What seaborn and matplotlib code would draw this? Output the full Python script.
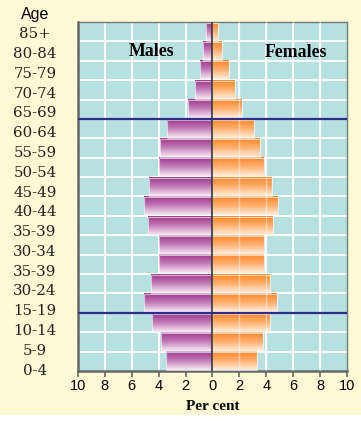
import numpy as np
import pandas as pd
import matplotlib
matplotlib.use("Agg")
import matplotlib.pyplot as plt
import seaborn as sns
from matplotlib.colors import LinearSegmentedColormap
from matplotlib.patches import Rectangle
from matplotlib.transforms import ScaledTranslation

# --- Data (top row first, as printed on the chart) ---
age_groups = ['85+', '80-84', '75-79', '70-74', '65-69', '60-64', '55-59', '50-54',
              '45-49', '40-44', '35-39', '30-34', '35-39', '30-24', '15-19',
              '10-14', '5-9', '0-4']
males = [0.5, 0.7, 0.9, 1.3, 1.8, 3.4, 3.9, 4.0, 4.7, 5.1, 4.8, 4.0, 4.0, 4.6, 5.1,
         4.5, 3.8, 3.45]
females = [0.4, 0.7, 1.2, 1.65, 2.2, 3.1, 3.5, 3.8, 4.4, 4.9, 4.5, 3.8, 3.8, 4.25, 4.8,
           4.3, 3.75, 3.3]
x_ticks = [-10, -8, -6, -4, -2, 0, 2, 4, 6, 8, 10]
band_breaks = ['65-69', '15-19']  # dark line drawn below these rows

df = pd.DataFrame({'row': range(len(age_groups)), 'age': age_groups,
                   'males': [-v for v in males], 'females': females})

# --- Colours ---
yellow = '#FFF9D6'
cyan = '#B7E1E1'
male_cmap = LinearSegmentedColormap.from_list('m', ['#9A3589', '#C47DB8', '#F7EAF5'])
female_cmap = LinearSegmentedColormap.from_list('f', ['#FF8424', '#FFB070', '#FFEEDD'])

fig = plt.figure(figsize=(3.61, 4.28), dpi=100, facecolor='white')
fig.patches.append(Rectangle((0, 13 / 428), 1, 1 - 13 / 428, transform=fig.transFigure,
                             facecolor=yellow, edgecolor='none', zorder=-10))
ax = fig.add_axes([0.216, 0.1332, 0.745, 0.8154])
ax.set_facecolor(cyan)

sns.barplot(data=df, x='males', y='row', orient='h', order=list(df['row']),
            width=0.93, color='white', ax=ax, zorder=2)
sns.barplot(data=df, x='females', y='row', orient='h', order=list(df['row']),
            width=0.93, color='white', ax=ax, zorder=2)

# gradient fill for each bar, dark at the top
grad = np.linspace(0, 1, 64).reshape(-1, 1)
for p in ax.patches:
    x0, y0 = p.get_x(), p.get_y()
    w, h = p.get_width(), p.get_height()
    left, right = min(x0, x0 + w), max(x0, x0 + w)
    top, bottom = min(y0, y0 + h), max(y0, y0 + h)
    cmap = male_cmap if left < 0 else female_cmap
    ax.imshow(grad, cmap=cmap, aspect='auto', extent=(left, right, bottom, top),
              origin='upper', zorder=2, interpolation='bilinear')
    p.set_facecolor('none')
    p.set_edgecolor((1, 1, 1, 0.6))
    p.set_linewidth(0.8)
    p.set_zorder(3)

n = len(age_groups)
ax.set_xlim(-10, 10)
ax.set_ylim(n - 0.5, -0.5)

# white grid
for xv in x_ticks[1:-1]:
    if xv != 0:
        ax.axvline(xv, color='white', lw=1.3, zorder=1)
for xv in [t for t in x_ticks if 0 < t < 10]:
    ax.axvline(xv, color='white', lw=1.0, alpha=0.45, zorder=4)
for yv in np.arange(0.5, n - 0.5, 1):
    ax.axhline(yv, color='white', lw=1.3, zorder=1)

ax.axvline(0, color='#333333', lw=1.2, zorder=5)
for lab in band_breaks:
    idx = age_groups.index(lab)
    ax.axhline(idx + 0.5, color='#2E2E8A', lw=1.6, zorder=6)

# axes cosmetics
for side in ['top', 'right']:
    ax.spines[side].set_color('#777777')
    ax.spines[side].set_linewidth(1.0)
ax.spines['left'].set_color('#666666')
ax.spines['left'].set_linewidth(1.8)
ax.spines['bottom'].set_color('#666666')
ax.spines['bottom'].set_linewidth(1.8)

ax.set_xticks(x_ticks)
ax.set_xticklabels([str(abs(t)) for t in x_ticks], fontfamily='Liberation Sans', fontsize=10.5)
ax.tick_params(axis='x', length=4, width=1.2, color='#666666', pad=1.5)

ax.set_yticks(range(n))
ax.set_yticklabels(age_groups)
ax.tick_params(axis='y', length=0, pad=31)
for i, lab in enumerate(ax.get_yticklabels()):
    lab.set_fontfamily('DejaVu Serif')
    lab.set_fontsize(10.8)
    lab.set_color('#222222')
    lab.set_horizontalalignment('center')
    lab.set_transform(lab.get_transform() +
                      ScaledTranslation(0, -(0.4 * i + 1) / 100, fig.dpi_scale_trans))

ax.set_xlabel('Per cent', fontfamily='Liberation Serif', fontweight='bold',
              fontsize=11, labelpad=5)
ax.set_ylabel('')
ax.text(-0.161, 1.0, 'Age', transform=ax.transAxes, ha='center', va='bottom',
        fontfamily='Liberation Sans', fontsize=11.5)

ax.text(-4.5, 1.0, 'Males', ha='center', va='center', fontfamily='Liberation Serif',
        fontweight='bold', fontsize=12.8, zorder=7)
ax.text(6.2, 1.05, 'Females', ha='center', va='center', fontfamily='Liberation Serif',
        fontweight='bold', fontsize=12.8, zorder=7)

fig.savefig('out.png', dpi=100, facecolor=fig.get_facecolor())
